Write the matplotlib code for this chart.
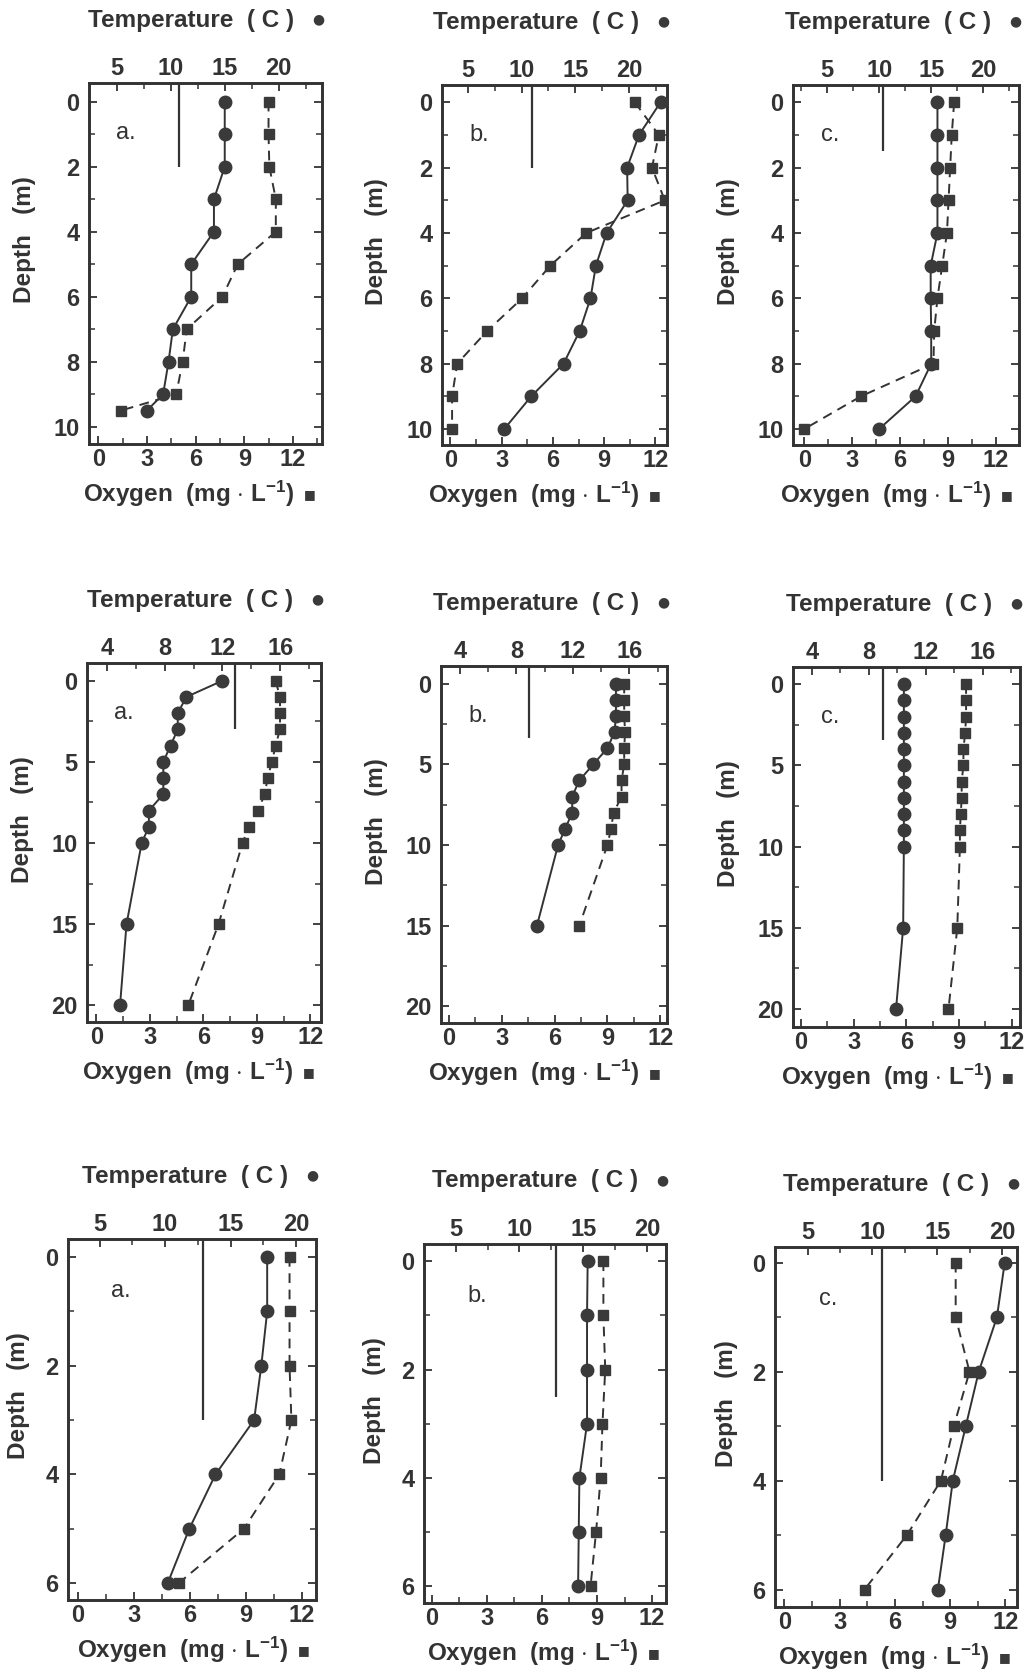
import matplotlib
matplotlib.use('Agg')
import matplotlib.pyplot as plt
from matplotlib.ticker import MultipleLocator

plt.rcParams['font.family'] = ['Liberation Sans', 'DejaVu Sans']
plt.rcParams['font.weight'] = 'bold'
plt.rcParams['mathtext.fontset'] = 'custom'
plt.rcParams['mathtext.rm'] = 'Liberation Sans:bold'
plt.rcParams['mathtext.bf'] = 'Liberation Sans:bold'
plt.rcParams['mathtext.it'] = 'Liberation Sans:bold'

# ---------------- data ----------------
panel_letters = ['a.', 'b.', 'c.', 'a.', 'b.', 'c.', 'a.', 'b.', 'c.']

depth_1a = [0, 1, 2, 3, 4, 5, 6, 7, 8, 9, 9.5]
temp_1a = [15.0, 15.0, 15.0, 14.0, 14.0, 11.9, 11.9, 10.2, 9.8, 9.3, 7.8]
oxy_1a = [10.5, 10.5, 10.55, 10.95, 10.95, 8.6, 7.65, 5.45, 5.2, 4.8, 1.4]

depth_1b = [0, 1, 2, 3, 4, 5, 6, 7, 8, 9, 10]
temp_1b = [22.9, 20.9, 19.8, 19.85, 17.9, 16.9, 16.4, 15.4, 13.9, 10.9, 8.4]
oxy_1b = [10.8, 12.2, 11.8, 12.55, 7.95, 5.85, 4.2, 2.15, 0.4, 0.1, 0.1]

depth_1c = [0, 1, 2, 3, 4, 5, 6, 7, 8, 9, 10]
temp_1c = [15.6, 15.6, 15.6, 15.6, 15.6, 14.95, 14.95, 15.0, 15.0, 13.5, 10.0]
oxy_1c = [9.4, 9.25, 9.15, 9.05, 8.95, 8.65, 8.35, 8.15, 8.1, 3.55, 0.0]

depth_2a = [0, 1, 2, 3, 4, 5, 6, 7, 8, 9, 10, 15, 20]
temp_2a = [12.0, 9.5, 8.9, 8.9, 8.4, 7.9, 7.9, 7.9, 6.9, 6.9, 6.4, 5.35, 4.9]
oxy_2a = [10.05, 10.3, 10.3, 10.3, 10.05, 9.85, 9.6, 9.45, 9.05, 8.55, 8.2, 6.85, 5.15]

depth_2b = [0, 1, 2, 3, 4, 5, 6, 7, 8, 9, 10, 15]
temp_2b = [15.05, 15.05, 15.05, 14.95, 14.45, 13.45, 12.45, 11.95, 11.95, 11.45, 10.95, 9.45]
oxy_2b = [9.95, 9.95, 9.95, 10.0, 9.95, 9.95, 9.8, 9.8, 9.35, 9.2, 9.0, 7.4]

depth_2c = [0, 1, 2, 3, 4, 5, 6, 7, 8, 9, 10, 15, 20]
temp_2c = [10.45, 10.45, 10.45, 10.45, 10.45, 10.45, 10.45, 10.45, 10.45, 10.45, 10.45, 10.4, 9.9]
oxy_2c = [9.4, 9.4, 9.4, 9.35, 9.25, 9.25, 9.15, 9.15, 9.1, 9.05, 9.05, 8.9, 8.4]

depth_3a = [0, 1, 2, 3, 4, 5, 6]
temp_3a = [17.8, 17.8, 17.35, 16.8, 13.85, 11.85, 10.2]
oxy_3a = [11.35, 11.35, 11.35, 11.45, 10.8, 8.9, 5.4]

depth_3b = [0, 1, 2, 3, 4, 5, 6]
temp_3b = [15.35, 15.3, 15.3, 15.3, 14.7, 14.65, 14.6]
oxy_3b = [9.35, 9.35, 9.45, 9.3, 9.2, 8.95, 8.65]

depth_3c = [0, 1, 2, 3, 4, 5, 6]
temp_3c = [20.2, 19.6, 18.2, 17.2, 16.2, 15.65, 15.05]
oxy_3c = [9.3, 9.3, 10.05, 9.2, 8.5, 6.65, 4.35]

# vertical reference bar (oxygen-axis position, depth reached)
bar_x = [5.0, 4.75, 4.95, 7.8, 4.55, 4.65, 6.7, 6.75, 5.3]
bar_depth = [2.0, 2.0, 1.5, 3.0, 3.4, 3.45, 3.0, 2.5, 4.0]

depths = [depth_1a, depth_1b, depth_1c, depth_2a, depth_2b, depth_2c, depth_3a, depth_3b, depth_3c]
temps = [temp_1a, temp_1b, temp_1c, temp_2a, temp_2b, temp_2c, temp_3a, temp_3b, temp_3c]
oxys = [oxy_1a, oxy_1b, oxy_1c, oxy_2a, oxy_2b, oxy_2c, oxy_3a, oxy_3b, oxy_3c]

temp_label = 'Temperature  ( C )  '
oxy_label = r'Oxygen  (mg $\cdot$ L$^{-1}$)  '
depth_label = 'Depth   (m)'

# ---------------- layout ----------------
W, H = 1026, 1673
boxes = [  # left, top, right, bottom in pixels
    (89, 83, 322, 444), (442, 85, 667, 445), (793, 85, 1019, 445),
    (87, 663, 321, 1022), (441, 666, 667, 1023), (793, 667, 1020, 1027),
    (68, 1239, 316, 1600), (424, 1244, 666, 1603), (775, 1247, 1017, 1607),
]
oxy_lims = [(-0.58, 13.8), (-0.49, 12.68), (-0.71, 13.47),
            (-0.53, 12.6), (-0.45, 12.38), (-0.45, 12.47),
            (-0.54, 12.77), (-0.42, 12.76), (-0.51, 12.63)]
temp_lims = [(2.44, 24.0), (2.62, 23.5), (1.73, 23.43),
             (2.61, 18.83), (2.65, 18.67), (2.67, 18.6),
             (2.58, 21.53), (2.52, 21.49), (2.49, 21.15)]
depth_lims = [(10.53, -0.575), (10.49, -0.53), (10.49, -0.53),
              (21.03, -1.09), (21.03, -1.09), (21.1, -1.05),
              (6.31, -0.33), (6.31, -0.32), (6.32, -0.29)]
row_temp_major = [5, 4, 5]
row_temp_minor = [2.5, 2, 2.5]
row_depth_major = [2, 5, 2]
row_depth_minor = [1, 2.5, 1]
row_depth_label_off = [-65, -64, -49]
row_letter_off = [(37, -50), (37, -50), (53, -52)]

ink = '#333333'
mark = '#3a3a3a'
TICK_FS = 17
LAB_FS = 17.5

fig = plt.figure(figsize=(W / 100, H / 100), dpi=100)
fig.patch.set_facecolor('white')

for i in range(9):
    row = i // 3
    l, t, r, b = boxes[i]
    ax = fig.add_axes([l / W, 1 - b / H, (r - l) / W, (b - t) / H])
    ax2 = ax.twiny()

    ax.set_xlim(*oxy_lims[i])
    ax2.set_xlim(*temp_lims[i])
    ax.set_ylim(*depth_lims[i])

    # reference bar
    ax.vlines(bar_x[i], depth_lims[i][1], bar_depth[i], color=ink, lw=1.6, zorder=2)

    # oxygen (squares, dashed)
    ax.plot(oxys[i], depths[i], color=ink, lw=1.4, linestyle=(0, (5.0, 3.4)),
            marker='s', ms=6.8, mfc=mark, mec=mark, zorder=3)
    # temperature (circles, solid)
    ax2.plot(temps[i], depths[i], color=ink, lw=1.4, linestyle='-',
             marker='o', ms=9, mfc=mark, mec=mark, zorder=4)

    ax.xaxis.set_major_locator(MultipleLocator(3))
    ax.xaxis.set_minor_locator(MultipleLocator(1.5))
    ax.yaxis.set_major_locator(MultipleLocator(row_depth_major[row]))
    ax.yaxis.set_minor_locator(MultipleLocator(row_depth_minor[row]))
    ax2.xaxis.set_major_locator(MultipleLocator(row_temp_major[row]))
    ax2.xaxis.set_minor_locator(MultipleLocator(row_temp_minor[row]))

    for a in (ax, ax2):
        for sp in a.spines.values():
            sp.set_linewidth(1.9)
            sp.set_color(ink)
    ax.tick_params(axis='both', which='both', direction='in', color=ink,
                   labelcolor=ink, labelsize=TICK_FS, top=False, right=True)
    ax.tick_params(axis='both', which='major', length=6, width=1.3)
    ax.tick_params(axis='both', which='minor', length=4, width=1.1)
    ax.tick_params(axis='x', which='major', pad=3)
    ax.tick_params(axis='y', which='major', pad=7)
    ax2.tick_params(axis='x', which='both', direction='in', color=ink,
                    labelcolor=ink, labelsize=TICK_FS, top=True, bottom=False, pad=2)
    ax2.tick_params(axis='x', which='major', length=6, width=1.3)
    ax2.tick_params(axis='x', which='minor', length=4, width=1.1)

    # axis titles with a legend-style symbol at their end
    ax.annotate(temp_label, xy=(1, 1), xycoords='axes fraction', xytext=(-14, 63),
                textcoords='offset pixels', ha='right', va='center',
                fontsize=LAB_FS, color=ink)
    ax.annotate('\u25CF', xy=(1, 1), xycoords='axes fraction', xytext=(-4, 64),
                textcoords='offset pixels', ha='center', va='center',
                fontsize=10, color=mark, family=['DejaVu Sans'])
    ax.annotate(oxy_label, xy=(1, 0), xycoords='axes fraction', xytext=(-20, -50),
                textcoords='offset pixels', ha='right', va='center',
                fontsize=LAB_FS, color=ink)
    ax.annotate('\u25A0', xy=(1, 0), xycoords='axes fraction', xytext=(-12, -51),
                textcoords='offset pixels', ha='center', va='center',
                fontsize=9, color=mark, family=['DejaVu Sans'])
    ax.annotate(depth_label, xy=(0, 0.565), xycoords='axes fraction',
                xytext=(row_depth_label_off[row], 0), textcoords='offset pixels',
                ha='center', va='center', rotation=90, fontsize=LAB_FS, color=ink)
    ax.annotate(panel_letters[i], xy=(0, 1), xycoords='axes fraction',
                xytext=row_letter_off[row], textcoords='offset pixels',
                ha='center', va='center', fontsize=17, fontweight='normal', color=ink)

fig.savefig('out.png', dpi=100, facecolor='white')
